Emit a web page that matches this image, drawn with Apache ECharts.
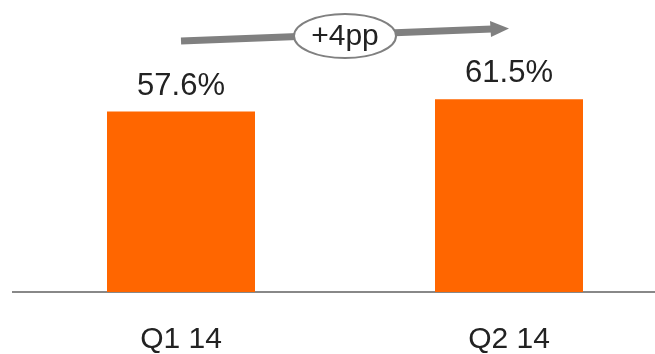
<!DOCTYPE html>
<html>
<head>
<meta charset="utf-8">
<script src="https://cdn.jsdelivr.net/npm/echarts@6/dist/echarts.min.js"></script>
<style>
  html, body { margin: 0; padding: 0; background: #fff; }
  #chart { width: 655px; height: 354px; }
</style>
</head>
<body>
<div id="chart"></div>
<script>
// Quarterly share values (percent)
const quarters = ['Q1 14', 'Q2 14'];
const shareValues = [57.6, 61.5];
const changeLabel = '+4pp';

const FONT = '"Liberation Sans", "Helvetica Neue", Helvetica, Arial, sans-serif';
const chart = echarts.init(document.getElementById('chart'));

chart.setOption({
  animation: false,
  grid: { left: 17, width: 656, top: 10, bottom: 62, outerBoundsMode: 'none', containLabel: false },
  xAxis: {
    type: 'category',
    data: quarters,
    axisLine: { lineStyle: { color: '#888888', width: 2 } },
    axisTick: { show: false },
    axisLabel: { color: '#222222', fontSize: 30, fontFamily: FONT, margin: 33 }
  },
  yAxis: {
    type: 'value',
    min: 0,
    max: 90,
    show: false,
    splitLine: { show: false }
  },
  series: [{
    type: 'bar',
    data: shareValues,
    barWidth: 148,
    itemStyle: { color: '#FF6600' },
    label: {
      show: true,
      position: 'top',
      distance: 10,
      color: '#222222',
      fontSize: 31,
      fontFamily: FONT,
      formatter: p => p.value.toFixed(1) + '%'
    }
  }],
  graphic: [
    // axis line continues to the left edge of the plot
    {
      type: 'line',
      shape: { x1: 12, y1: 292, x2: 18, y2: 292 },
      style: { stroke: '#888888', lineWidth: 2 }
    },
    // trend arrow shaft
    {
      type: 'line',
      shape: { x1: 181, y1: 41, x2: 492, y2: 29 },
      style: { stroke: '#808080', lineWidth: 7 },
      z: 10
    },
    // arrow head
    {
      type: 'polygon',
      shape: { points: [[490, 21], [509, 28.5], [491, 37]] },
      style: { fill: '#808080' },
      z: 10
    },
    // change bubble
    {
      type: 'ellipse',
      shape: { cx: 345, cy: 36, rx: 51, ry: 22 },
      style: { fill: '#ffffff', stroke: '#808080', lineWidth: 2 },
      z: 11
    },
    {
      type: 'text',
      x: 345,
      y: 37,
      style: {
        text: changeLabel,
        font: '30px ' + FONT,
        fill: '#222222',
        align: 'center',
        verticalAlign: 'middle'
      },
      z: 12
    }
  ]
});
</script>
</body>
</html>
